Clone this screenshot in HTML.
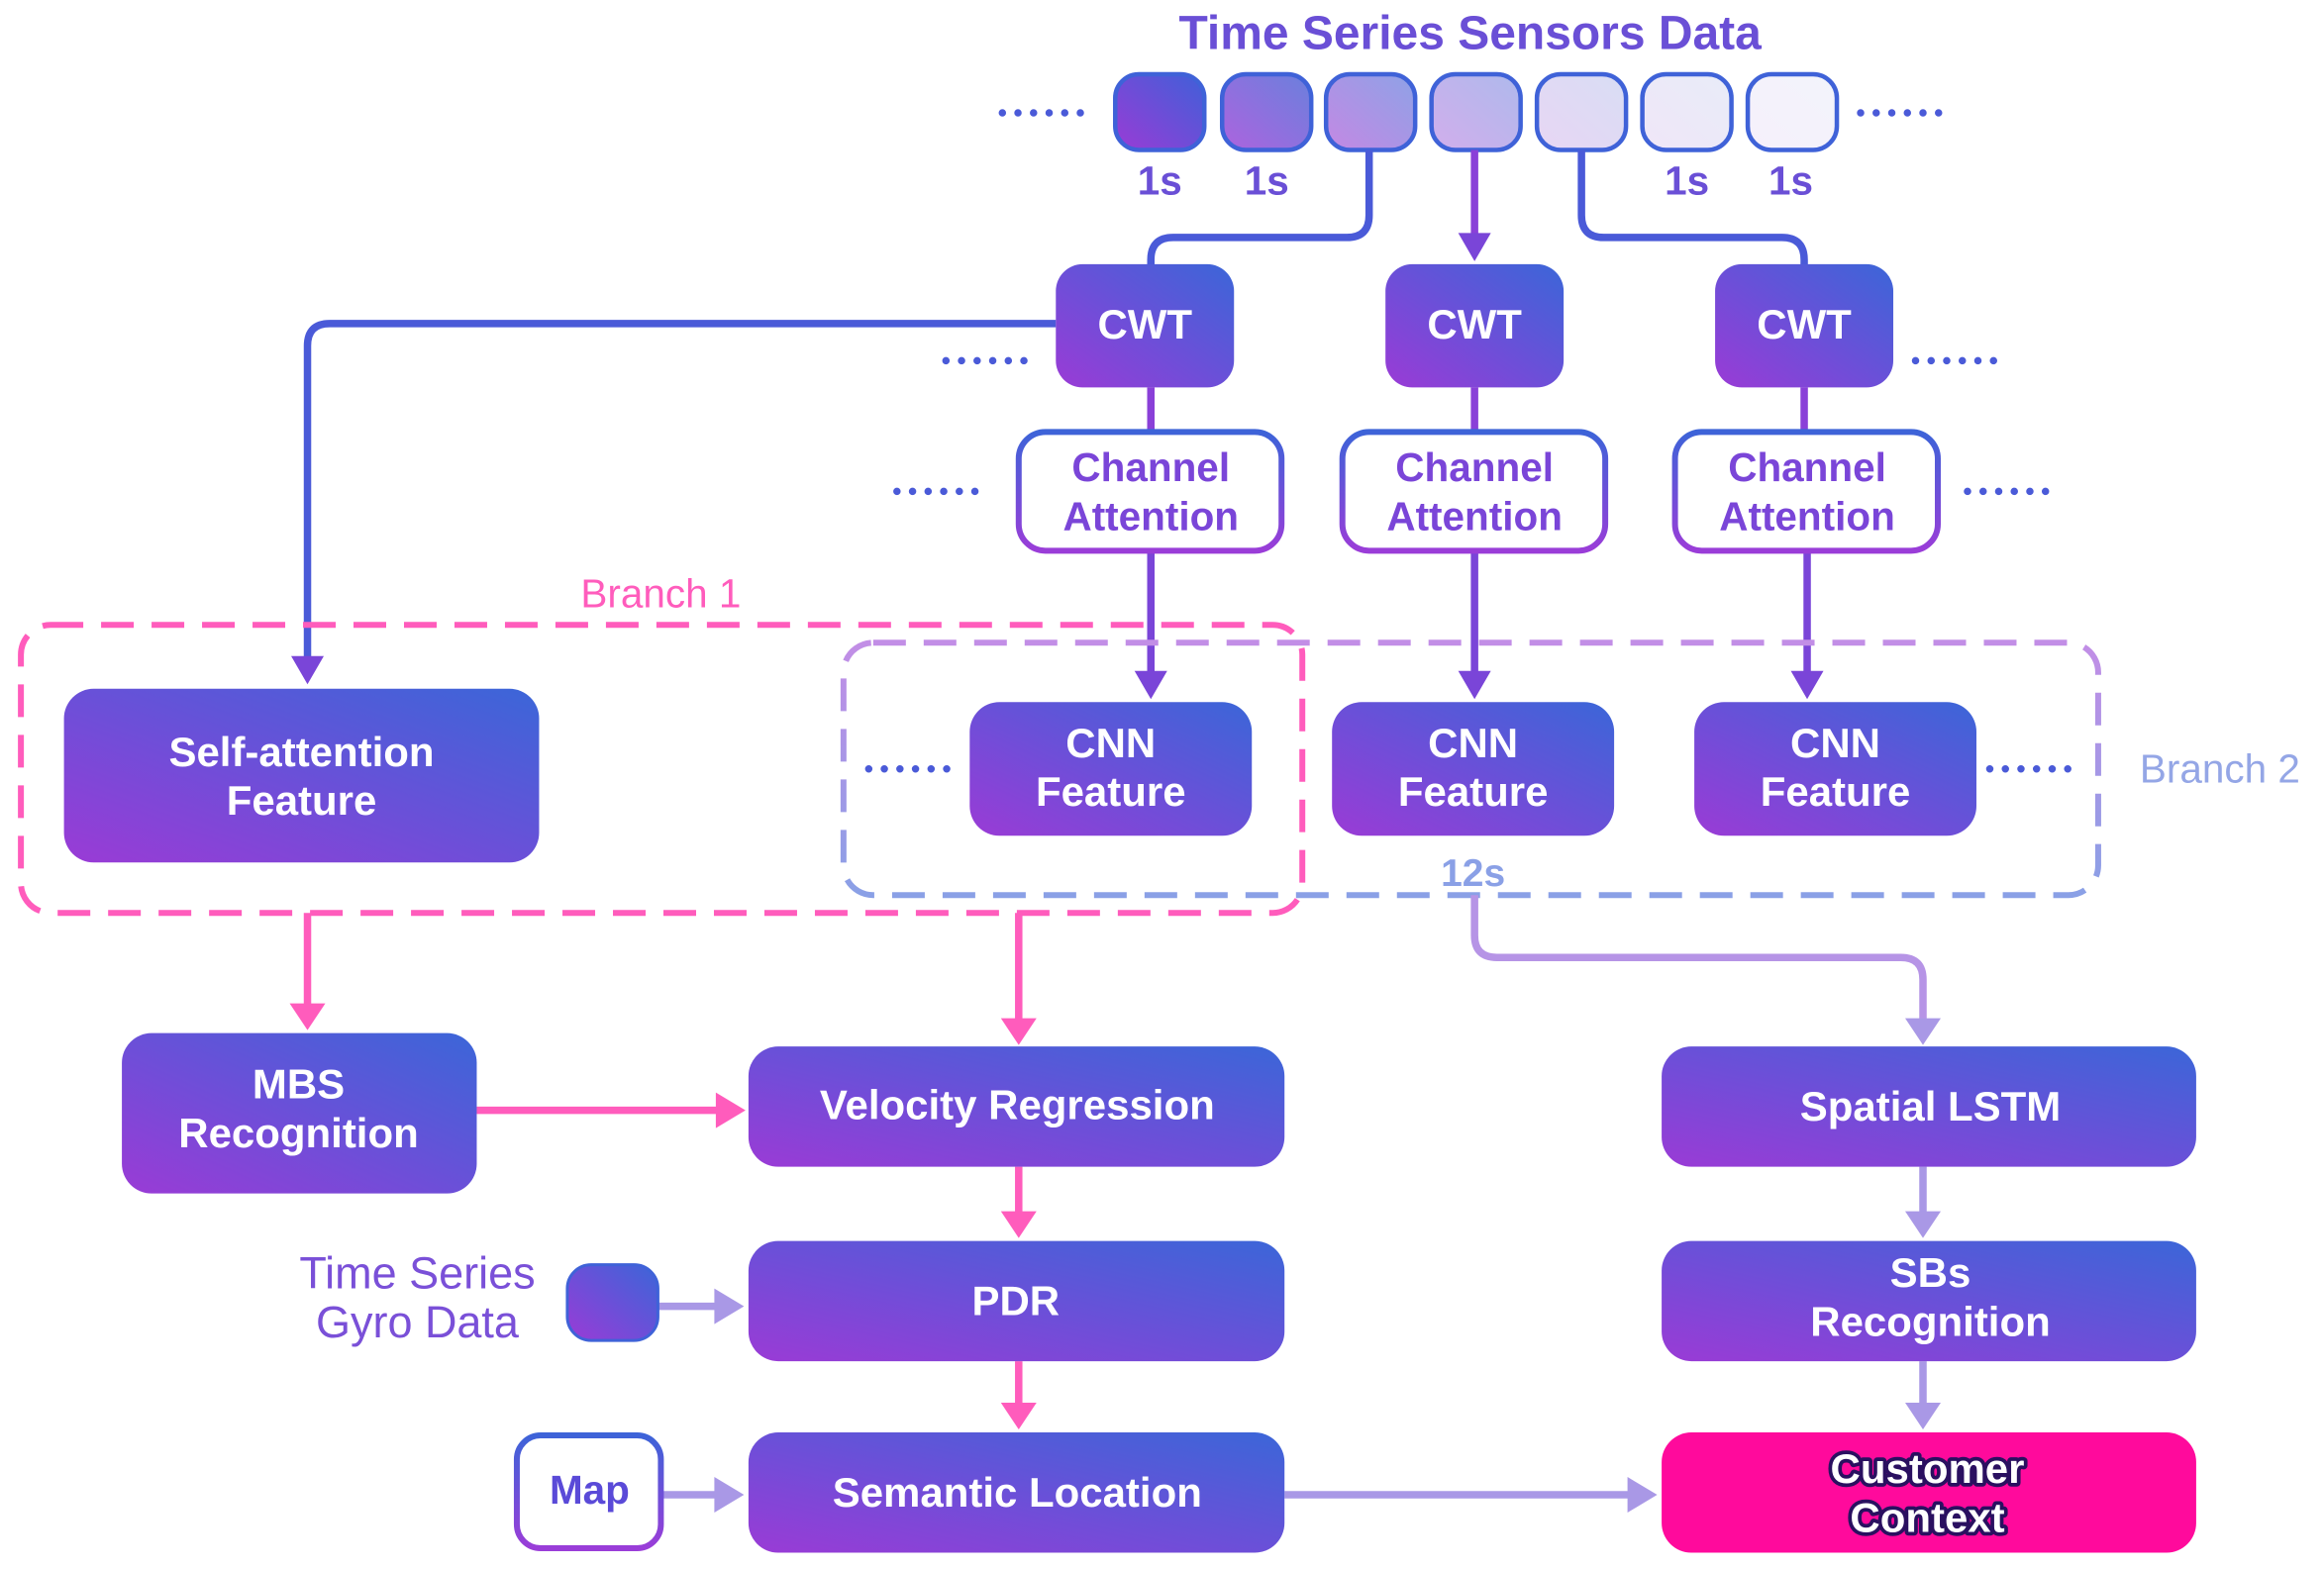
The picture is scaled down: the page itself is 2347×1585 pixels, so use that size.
<!DOCTYPE html>
<html><head><meta charset="utf-8">
<style>
html,body{margin:0;padding:0;background:#fff;}
svg{display:block;}
text{font-family:"Liberation Sans",sans-serif;}
</style></head>
<body>
<svg width="2347" height="1585" viewBox="0 0 1565 1057" xmlns="http://www.w3.org/2000/svg">
<defs>
<linearGradient id="g" x1="0" y1="1" x2="1" y2="0">
<stop offset="0" stop-color="#9a3bd6"/><stop offset="0.5" stop-color="#6a50d8"/><stop offset="1" stop-color="#3b66d8"/>
</linearGradient>
<linearGradient id="gs" x1="0" y1="0" x2="0" y2="1">
<stop offset="0" stop-color="#3d63d8"/><stop offset="1" stop-color="#9a3dd8"/>
</linearGradient>
<linearGradient id="b2" x1="0" y1="0" x2="0" y2="1">
<stop offset="0" stop-color="#c28ee6"/><stop offset="1" stop-color="#8aa0e6"/>
</linearGradient>
<linearGradient id="s1" x1="0" y1="1" x2="1" y2="0"><stop offset="0" stop-color="#9a3bd6"/><stop offset="1" stop-color="#3f60d8"/></linearGradient>
<linearGradient id="s2" x1="0" y1="1" x2="1" y2="0"><stop offset="0" stop-color="#ad63de"/><stop offset="1" stop-color="#6a80dd"/></linearGradient>
<linearGradient id="s3" x1="0" y1="1" x2="1" y2="0"><stop offset="0" stop-color="#c488e4"/><stop offset="1" stop-color="#8ea2e6"/></linearGradient>
<linearGradient id="s4" x1="0" y1="1" x2="1" y2="0"><stop offset="0" stop-color="#d2aeec"/><stop offset="1" stop-color="#aeb9ec"/></linearGradient>
<linearGradient id="s5" x1="0" y1="1" x2="1" y2="0"><stop offset="0" stop-color="#e8d6f4"/><stop offset="1" stop-color="#d8ddf4"/></linearGradient>
<linearGradient id="s6" x1="0" y1="1" x2="1" y2="0"><stop offset="0" stop-color="#f0e6f8"/><stop offset="1" stop-color="#e8ecf8"/></linearGradient>
<linearGradient id="s7" x1="0" y1="1" x2="1" y2="0"><stop offset="0" stop-color="#f6f0fb"/><stop offset="1" stop-color="#f2f4fb"/></linearGradient>
</defs>

<text x="990" y="33" text-anchor="middle" font-size="32" font-weight="bold" fill="#6a4fd6">Time Series Sensors Data</text>

<g stroke="#3f62d8" stroke-width="3">
<rect x="751" y="50" width="60" height="51" rx="16" fill="url(#s1)"/>
<rect x="823" y="50" width="60" height="51" rx="16" fill="url(#s2)"/>
<rect x="893" y="50" width="60" height="51" rx="16" fill="url(#s3)"/>
<rect x="964" y="50" width="60" height="51" rx="16" fill="url(#s4)"/>
<rect x="1035" y="50" width="60" height="51" rx="16" fill="url(#s5)"/>
<rect x="1106" y="50" width="60" height="51" rx="16" fill="url(#s6)"/>
<rect x="1177" y="50" width="60" height="51" rx="16" fill="url(#s7)"/>
</g>
<g fill="#6a4fd6" font-size="27" font-weight="bold" text-anchor="middle">
<text x="781" y="131">1s</text><text x="853" y="131">1s</text>
<text x="1136" y="131">1s</text><text x="1206" y="131">1s</text>
</g>

<g stroke="#4a5ad8" stroke-width="5" stroke-linecap="round" stroke-dasharray="0 10.5" fill="none">
<line x1="675" y1="76" x2="735" y2="76"/>
<line x1="1253" y1="76" x2="1313" y2="76"/>
<line x1="637" y1="243" x2="697" y2="243"/>
<line x1="1290" y1="243" x2="1350" y2="243"/>
<line x1="604" y1="331" x2="664" y2="331"/>
<line x1="1325" y1="331" x2="1385" y2="331"/>
<line x1="585" y1="518" x2="645" y2="518"/>
<line x1="1340" y1="518" x2="1400" y2="518"/>
</g>

<g fill="none" stroke-width="5">
<path d="M922 101 V145 Q922 160 907 160 H790 Q775 160 775 175 V180" stroke="#4a5ad8"/>
<path d="M1065 101 V145 Q1065 160 1080 160 H1200 Q1215 160 1215 175 V180" stroke="#4a5ad8"/>
<line x1="993" y1="101" x2="993" y2="160" stroke="#8a40d8"/>
<path d="M711 218 H222 Q207 218 207 233 V445" stroke="#4a5ad8"/>
<line x1="775" y1="261" x2="775" y2="292" stroke="#8a40d8"/>
<line x1="993" y1="261" x2="993" y2="292" stroke="#8a40d8"/>
<line x1="1215" y1="261" x2="1215" y2="292" stroke="#8a40d8"/>
<line x1="775" y1="372" x2="775" y2="455" stroke="#7a45d8"/>
<line x1="993" y1="372" x2="993" y2="455" stroke="#7a45d8"/>
<line x1="1217" y1="372" x2="1217" y2="455" stroke="#7a45d8"/>
</g>
<g fill="#7a45d8">
<polygon points="982,157 1004,157 993,176"/>
<polygon points="196,442 218,442 207,461"/>
<polygon points="764,452 786,452 775,471"/>
<polygon points="982,452 1004,452 993,471"/>
<polygon points="1206,452 1228,452 1217,471"/>
</g>

<g fill="url(#g)">
<rect x="711" y="178" width="120" height="83" rx="18"/>
<rect x="933" y="178" width="120" height="83" rx="18"/>
<rect x="1155" y="178" width="120" height="83" rx="18"/>
</g>
<g fill="#fff" font-size="28" font-weight="bold" text-anchor="middle">
<text x="771" y="228">CWT</text><text x="993" y="228">CWT</text><text x="1215" y="228">CWT</text>
</g>

<g fill="#fff" stroke="url(#gs)" stroke-width="4">
<rect x="686" y="291" width="177" height="80" rx="18"/>
<rect x="904" y="291" width="177" height="80" rx="18"/>
<rect x="1128" y="291" width="177" height="80" rx="18"/>
</g>
<g fill="#7a45d8" font-size="27" font-weight="bold" text-anchor="middle">
<text x="775" y="324">Channel</text><text x="775" y="357">Attention</text>
<text x="993" y="324">Channel</text><text x="993" y="357">Attention</text>
<text x="1217" y="324">Channel</text><text x="1217" y="357">Attention</text>
</g>

<rect x="568" y="433" width="845" height="170" rx="20" fill="none" stroke="url(#b2)" stroke-width="4" stroke-dasharray="22 12"/>
<rect x="14" y="421" width="863" height="194" rx="20" fill="none" stroke="#ff5cbc" stroke-width="4" stroke-dasharray="22 12"/>
<text x="445" y="409" text-anchor="middle" font-size="27" fill="#ff5cbc">Branch 1</text>
<text x="1495" y="527" text-anchor="middle" font-size="27" fill="#94a6e6">Branch 2</text>
<text x="992" y="597" text-anchor="middle" font-size="26" font-weight="bold" fill="#8aa0e6">12s</text>

<g fill="url(#g)">
<rect x="43" y="464" width="320" height="117" rx="20"/>
<rect x="653" y="473" width="190" height="90" rx="20"/>
<rect x="897" y="473" width="190" height="90" rx="20"/>
<rect x="1141" y="473" width="190" height="90" rx="20"/>
</g>
<g fill="#fff" font-size="28" font-weight="bold" text-anchor="middle">
<text x="203" y="516">Self-attention</text><text x="203" y="549">Feature</text>
<text x="748" y="510">CNN</text><text x="748" y="543">Feature</text>
<text x="992" y="510">CNN</text><text x="992" y="543">Feature</text>
<text x="1236" y="510">CNN</text><text x="1236" y="543">Feature</text>
</g>

<g stroke="#ff5cbc" stroke-width="5" fill="none">
<line x1="207" y1="615" x2="207" y2="678"/>
<line x1="686" y1="615" x2="686" y2="688"/>
<line x1="321" y1="748" x2="485" y2="748"/>
<line x1="686" y1="786" x2="686" y2="818"/>
<line x1="686" y1="917" x2="686" y2="947"/>
</g>
<g fill="#ff5cbc">
<polygon points="195,676 219,676 207,694"/>
<polygon points="674,686 698,686 686,704"/>
<polygon points="482,736 482,760 502,748"/>
<polygon points="674,816 698,816 686,834"/>
<polygon points="674,945 698,945 686,963"/>
</g>

<g stroke="#a998e6" stroke-width="5" fill="none">
<path d="M993 603 V630 Q993 645 1008 645 H1280 Q1295 645 1295 660 V688" stroke="#b694e6"/>
<line x1="1295" y1="786" x2="1295" y2="818"/>
<line x1="1295" y1="917" x2="1295" y2="947"/>
<line x1="443" y1="880" x2="483" y2="880"/>
<line x1="446" y1="1007" x2="483" y2="1007"/>
<line x1="865" y1="1007" x2="1098" y2="1007"/>
</g>
<g fill="#a998e6">
<polygon points="1283,686 1307,686 1295,704"/>
<polygon points="1283,816 1307,816 1295,834"/>
<polygon points="1283,945 1307,945 1295,963"/>
<polygon points="481,868 481,892 501,880"/>
<polygon points="481,995 481,1019 501,1007"/>
<polygon points="1096,995 1096,1019 1116,1007"/>
</g>

<g fill="url(#g)">
<rect x="82" y="696" width="239" height="108" rx="20"/>
<rect x="504" y="705" width="361" height="81" rx="20"/>
<rect x="504" y="836" width="361" height="81" rx="20"/>
<rect x="504" y="965" width="361" height="81" rx="20"/>
<rect x="1119" y="705" width="360" height="81" rx="20"/>
<rect x="1119" y="836" width="360" height="81" rx="20"/>
<rect x="382" y="852" width="61" height="51" rx="16" stroke="#3f62d8" stroke-width="2"/>
</g>
<rect x="1119" y="965" width="360" height="81" rx="20" fill="#ff0a9c"/>
<rect x="348" y="967" width="97" height="76" rx="16" fill="#fff" stroke="url(#gs)" stroke-width="4"/>

<g fill="#fff" font-size="28" font-weight="bold" text-anchor="middle">
<text x="201" y="740">MBS</text><text x="201" y="773">Recognition</text>
<text x="685" y="754">Velocity Regression</text>
<text x="684" y="886">PDR</text>
<text x="685" y="1015">Semantic Location</text>
<text x="1300" y="755">Spatial LSTM</text>
<text x="1300" y="867">SBs</text><text x="1300" y="900">Recognition</text>
</g>
<g font-size="28" font-weight="bold" text-anchor="middle" fill="#fff" stroke="#2a1060" stroke-width="5" paint-order="stroke" stroke-linejoin="round">
<text x="1298" y="999">Customer</text><text x="1298" y="1032">Context</text>
</g>
<text x="397" y="1013" text-anchor="middle" font-size="27" font-weight="bold" fill="#5a4ad8">Map</text>
<g fill="#7a50d8" font-size="30" text-anchor="middle">
<text x="281" y="868">Time Series</text><text x="281" y="901">Gyro Data</text>
</g>
</svg>
</body></html>
